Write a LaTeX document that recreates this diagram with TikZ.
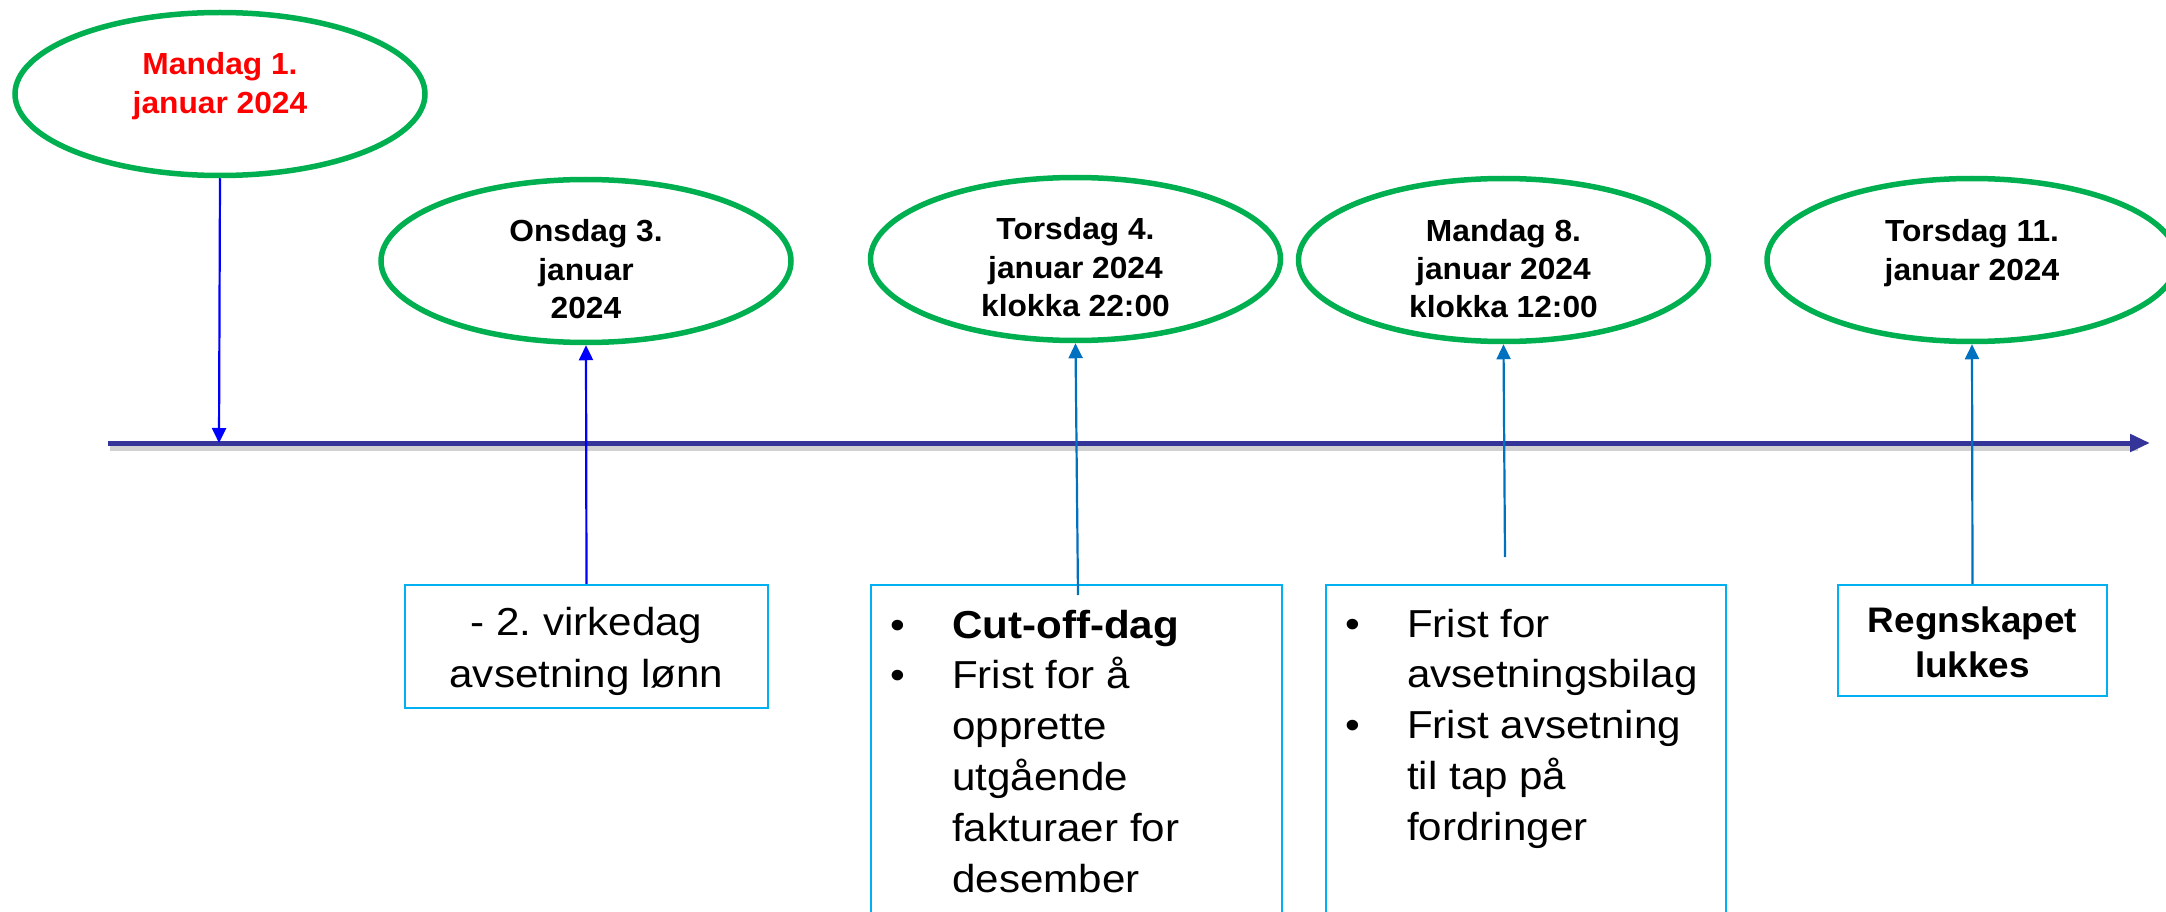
\documentclass[tikz,border=0pt]{standalone}
\usepackage{fontspec}
\setmainfont{Liberation Sans}
\newfontfamily\ellf[FakeStretch=1.04]{Liberation Sans}
\newfontfamily\boxf[FakeStretch=1.08]{Liberation Sans}
\usetikzlibrary{shapes.geometric,arrows.meta}
\frenchspacing
\definecolor{ovalgreen}{HTML}{00B050}
\definecolor{datered}{HTML}{FF0000}
\definecolor{boxblue}{HTML}{00B0F0}
\definecolor{pureblue}{HTML}{0000FF}
\definecolor{midblue}{HTML}{0070C0}
\definecolor{axisblue}{HTML}{353599}
\newcommand\ctrlines[1]{\vtop{\halign{\hfil##\hfil\cr#1\crcr}}}
\newcommand\leftlines[1]{\vtop{\halign{##\hfil\cr#1\crcr}}}
\newcommand\bul{\llap{\mdseries\textbullet\hskip47pt}}
\tikzset{
  oval/.style={ellipse, draw=ovalgreen, line width=5.5pt, minimum width=410pt, minimum height=163pt, inner sep=0pt},
  boxnode/.style={rectangle, draw=boxblue, line width=2.5pt, inner sep=0pt},
  datetxt/.style={anchor=base, inner sep=0pt, font=\ellf\bfseries\fontsize{30.5pt}{38.3pt}\selectfont},
  boxtxt/.style={inner sep=0pt, font=\boxf\fontsize{39pt}{50.8pt}\selectfont},
  arrowA/.style={draw=pureblue, line width=2.2pt, -{Triangle[length=15pt,width=14pt]}},
  arrowB/.style={draw=midblue, line width=2.2pt, -{Triangle[length=15pt,width=14pt]}},
}
\begin{document}
\begin{tikzpicture}[x=1pt,y=-1pt]
\useasboundingbox (0,0) rectangle (2166,912);
\clip (0,0) rectangle (2166,912);
\fill[white] (0,0) rectangle (2166,912);

% ellipses
\node[oval] (e1) at (220,94) {};
\node[oval] (e2) at (586,261) {};
\node[oval] (e3) at (1075.5,259) {};
\node[oval] (e4) at (1503.5,260) {};
\node[oval] (e5) at (1972,260) {};

% ellipse texts
\node[datetxt, text=datered] (t1) at (220,75) {\ctrlines{Mandag 1.\cr januar 2024}};
\node[datetxt] (t2) at (586,242) {\ctrlines{Onsdag 3.\cr januar\cr 2024}};
\node[datetxt] (t3) at (1075.5,240) {\ctrlines{Torsdag 4.\cr januar 2024\cr klokka 22:00}};
\node[datetxt] (t4) at (1503.5,241) {\ctrlines{Mandag 8.\cr januar 2024\cr klokka 12:00}};
\node[datetxt] (t5) at (1972,242) {\ctrlines{Torsdag 11.\cr januar 2024}};

% boxes
\node[boxnode, minimum width=363pt, minimum height=123pt] (b1) at (586.5,646.5) {};
\node[boxnode, minimum width=411pt, minimum height=365pt] (b2) at (1076.5,767.5) {};
\node[boxnode, minimum width=400pt, minimum height=365pt] (b3) at (1526,767.5) {};
\node[boxnode, minimum width=269pt, minimum height=111pt] (b5) at (1972.5,640.5) {};

% box texts
\node[boxtxt, anchor=base, font=\boxf\fontsize{39pt}{52pt}\selectfont] (bt1) at (586.5,635) {\ctrlines{- 2. virkedag\cr avsetning lønn}};
\node[boxtxt, anchor=base west] (bt2) at (952,638) {\leftlines{\bul{\bfseries Cut-off-dag}\cr \bul Frist for å\cr opprette\cr utgående\cr fakturaer for\cr desember}};
\node[boxtxt, anchor=base west] (bt3) at (1407,637) {\leftlines{\bul Frist for\cr avsetningsbilag\cr \bul Frist avsetning\cr til tap på\cr fordringer}};
\node[anchor=base, inner sep=0pt, font=\ellf\bfseries\fontsize{35.5pt}{45pt}\selectfont] (bt5) at (1972.5,632) {\ctrlines{Regnskapet\cr lukkes}};

% axis
\coordinate (axL) at (108,443);
\coordinate (axR) at (2150,443);
\coordinate (axS1) at (110,448);
\coordinate (axS2) at (2138,448);
\draw[line width=5pt, black!18] (axS1) -- (axS2);
\draw[line width=5pt, axisblue, -{Triangle[length=20pt,width=17pt]}] (axL) -- (axR);

% connectors
\coordinate (ax1) at (219,443);
\coordinate (c3) at (1078,595);
\coordinate (c4) at (1505,557);
\draw[arrowA] (e1.south) -- (ax1);
\draw[arrowA] (b1.north) -- (e2.south);
\draw[arrowB] (c3) -- (e3.south);
\draw[arrowB] (c4) -- (e4.south);
\draw[arrowB] (b5.north) -- (e5.south);
\end{tikzpicture}
\end{document}
